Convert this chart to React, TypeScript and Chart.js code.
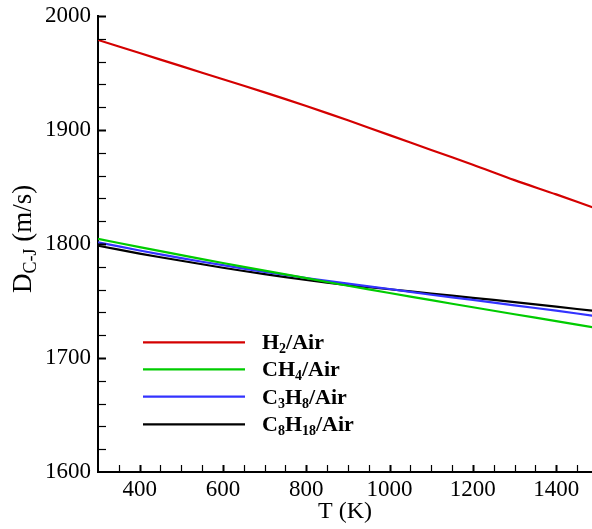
import React, { useEffect, useRef } from 'react';
import { Chart, registerables } from 'chart.js';

Chart.register(...registerables);

const temperatures = [300, 400, 500, 600, 700, 800, 900, 1000, 1100, 1200, 1300, 1400, 1500];
const h2Air = [1979, 1967.5, 1956, 1944.5, 1933, 1921, 1908.5, 1895.5, 1882.5, 1869.5, 1856, 1843.5, 1830.5];
const ch4Air = [1804.5, 1797.3, 1790.2, 1783.3, 1776.6, 1770, 1763.4, 1757, 1750.7, 1744.5, 1738.4, 1732.4, 1726.2];
const c3h8Air = [1801.5, 1794.3, 1787.6, 1781.4, 1775.6, 1770.2, 1765.2, 1760.5, 1755.5, 1751, 1746.2, 1741.5, 1736.5];
const c8h18Air = [1798.5, 1791.6, 1785.3, 1779.2, 1773.5, 1768.4, 1764, 1760.3, 1756.5, 1752.8, 1749, 1745, 1741];

const seriesLabels = ['H_2/Air', 'CH_4/Air', 'C_3H_8/Air', 'C_8H_{18}/Air'];
const seriesColors = ['#d40000', '#00cc00', '#3333ff', '#000000'];

const xTickValues = [400, 600, 800, 1000, 1200, 1400];
const yTickValues = [1600, 1700, 1800, 1900, 2000];
const xMin = 300;
const xMax = 1486;
const yMin = 1600;
const yMax = 2000;
const xMinorStep = 50;
const yMinorStep = 20;

const xTitle = 'T (K)';
const yTitleMain = 'D';
const yTitleSub = 'C-J';
const yTitleRest = ' (m/s)';

const SERIF = '"Liberation Serif", "Times New Roman", serif';

type Part = { t: string; sub: boolean };
function parseLabel(s: string): Part[] {
  const parts: Part[] = [];
  let i = 0;
  let buf = '';
  while (i < s.length) {
    const c = s[i];
    if (c === '_') {
      if (buf) { parts.push({ t: buf, sub: false }); buf = ''; }
      i++;
      if (s[i] === '{') {
        const end = s.indexOf('}', i);
        parts.push({ t: s.slice(i + 1, end), sub: true });
        i = end + 1;
      } else {
        parts.push({ t: s[i], sub: true });
        i++;
      }
    } else {
      buf += c;
      i++;
    }
  }
  if (buf) parts.push({ t: buf, sub: false });
  return parts;
}

const decorPlugin = {
  id: 'decor',
  afterDraw(chart: any) {
    const ctx = chart.ctx as CanvasRenderingContext2D;
    const xs = chart.scales.x;
    const ys = chart.scales.y;
    const area = chart.chartArea;
    ctx.save();
    ctx.strokeStyle = '#000';
    for (let v = xMin + xMinorStep; v <= xMax; v += xMinorStep) {
      const px = Math.round(xs.getPixelForValue(v)) + 0.5;
      const major = xTickValues.includes(v);
      ctx.lineWidth = major ? 2 : 1.2;
      ctx.beginPath();
      ctx.moveTo(px, area.bottom);
      ctx.lineTo(px, area.bottom - 7);
      ctx.stroke();
    }
    for (let v = yMin + yMinorStep; v <= yMax; v += yMinorStep) {
      const py = Math.round(ys.getPixelForValue(v)) + 0.5;
      const major = yTickValues.includes(v);
      ctx.lineWidth = major ? 2 : 1.2;
      ctx.beginPath();
      ctx.moveTo(area.left, py);
      ctx.lineTo(area.left + 8, py);
      ctx.stroke();
    }

    // y title with subscript (reads bottom to top)
    ctx.fillStyle = '#000';
    ctx.translate(24, 293);
    ctx.rotate(-Math.PI / 2);
    ctx.textBaseline = 'middle';
    ctx.textAlign = 'left';
    const mainFont = `27px ${SERIF}`;
    const subFont = `18px ${SERIF}`;
    let cx = 0;
    ctx.font = mainFont;
    ctx.fillText(yTitleMain, cx, 0);
    cx += ctx.measureText(yTitleMain).width;
    ctx.font = subFont;
    ctx.fillText(yTitleSub, cx, 7);
    cx += ctx.measureText(yTitleSub).width;
    ctx.font = mainFont;
    ctx.fillText(yTitleRest, cx, 0);
    ctx.restore();

    // legend
    ctx.save();
    const rows = [342.3, 369.3, 396.7, 424.3];
    chart.data.datasets.forEach((ds: any, i: number) => {
      const y = rows[i];
      ctx.strokeStyle = ds.borderColor;
      ctx.lineWidth = 2.2;
      ctx.beginPath();
      ctx.moveTo(143, y);
      ctx.lineTo(245, y);
      ctx.stroke();
      ctx.fillStyle = '#000';
      ctx.textBaseline = 'alphabetic';
      ctx.textAlign = 'left';
      let tx = 262;
      parseLabel(ds.label).forEach((p) => {
        ctx.font = p.sub ? `bold 14px ${SERIF}` : `bold 22px ${SERIF}`;
        ctx.fillText(p.t, tx, y + (p.sub ? 11 : 7));
        tx += ctx.measureText(p.t).width;
      });
    });
    ctx.restore();
  },
};

export default function App() {
  const ref = useRef<HTMLCanvasElement>(null);
  useEffect(() => {
    const canvas = ref.current!;
    const seriesValues = [h2Air, ch4Air, c3h8Air, c8h18Air];
    const chart = new Chart(canvas, {
      type: 'line',
      data: {
        datasets: seriesValues.map((vals, i) => ({
          label: seriesLabels[i],
          data: temperatures.map((t, j) => ({ x: t, y: vals[j] })),
          borderColor: seriesColors[i],
          backgroundColor: seriesColors[i],
          borderWidth: 2.2,
          pointRadius: 0,
          tension: 0.3,
          fill: false,
        })),
      },
      options: {
        responsive: false,
        animation: false,
        layout: { padding: { top: 16, right: 0, left: 0, bottom: 0 } },
        plugins: { legend: { display: false }, tooltip: { enabled: false } },
        scales: {
          x: {
            type: 'linear',
            min: xMin,
            max: xMax,
            afterBuildTicks: (s: any) => {
              s.ticks = xTickValues.map((v) => ({ value: v }));
            },
            afterFit: (s: any) => {
              s.height = 57;
              s.paddingLeft = 0;
              s.paddingRight = 0;
            },
            grid: { display: false, drawTicks: false },
            border: { display: true, color: '#000', width: 2 },
            ticks: {
              color: '#000',
              font: { family: SERIF, size: 23 },
              padding: 4,
              maxRotation: 0,
              autoSkip: false,
              callback: (v: any) => String(v),
            },
            title: {
              display: true,
              text: xTitle,
              color: '#000',
              font: { family: SERIF, size: 24 },
              padding: { top: 0, bottom: 3 },
            },
          },
          y: {
            type: 'linear',
            min: yMin,
            max: yMax,
            afterBuildTicks: (s: any) => {
              s.ticks = yTickValues.map((v) => ({ value: v }));
            },
            afterFit: (s: any) => {
              s.width = 98;
              s.paddingTop = 0;
              s.paddingBottom = 0;
            },
            grid: { display: false, drawTicks: false },
            border: { display: true, color: '#000', width: 2 },
            ticks: {
              color: '#000',
              font: { family: SERIF, size: 23 },
              padding: 7,
              callback: (v: any) => String(v),
            },
          },
        },
      },
      plugins: [decorPlugin],
    });
    return () => chart.destroy();
  }, []);
  return (
    <div style={{ position: 'absolute', left: 0, top: 0, width: 592, height: 529, background: '#fff' }}>
      <canvas ref={ref} width={592} height={529} style={{ display: 'block' }} />
    </div>
  );
}
